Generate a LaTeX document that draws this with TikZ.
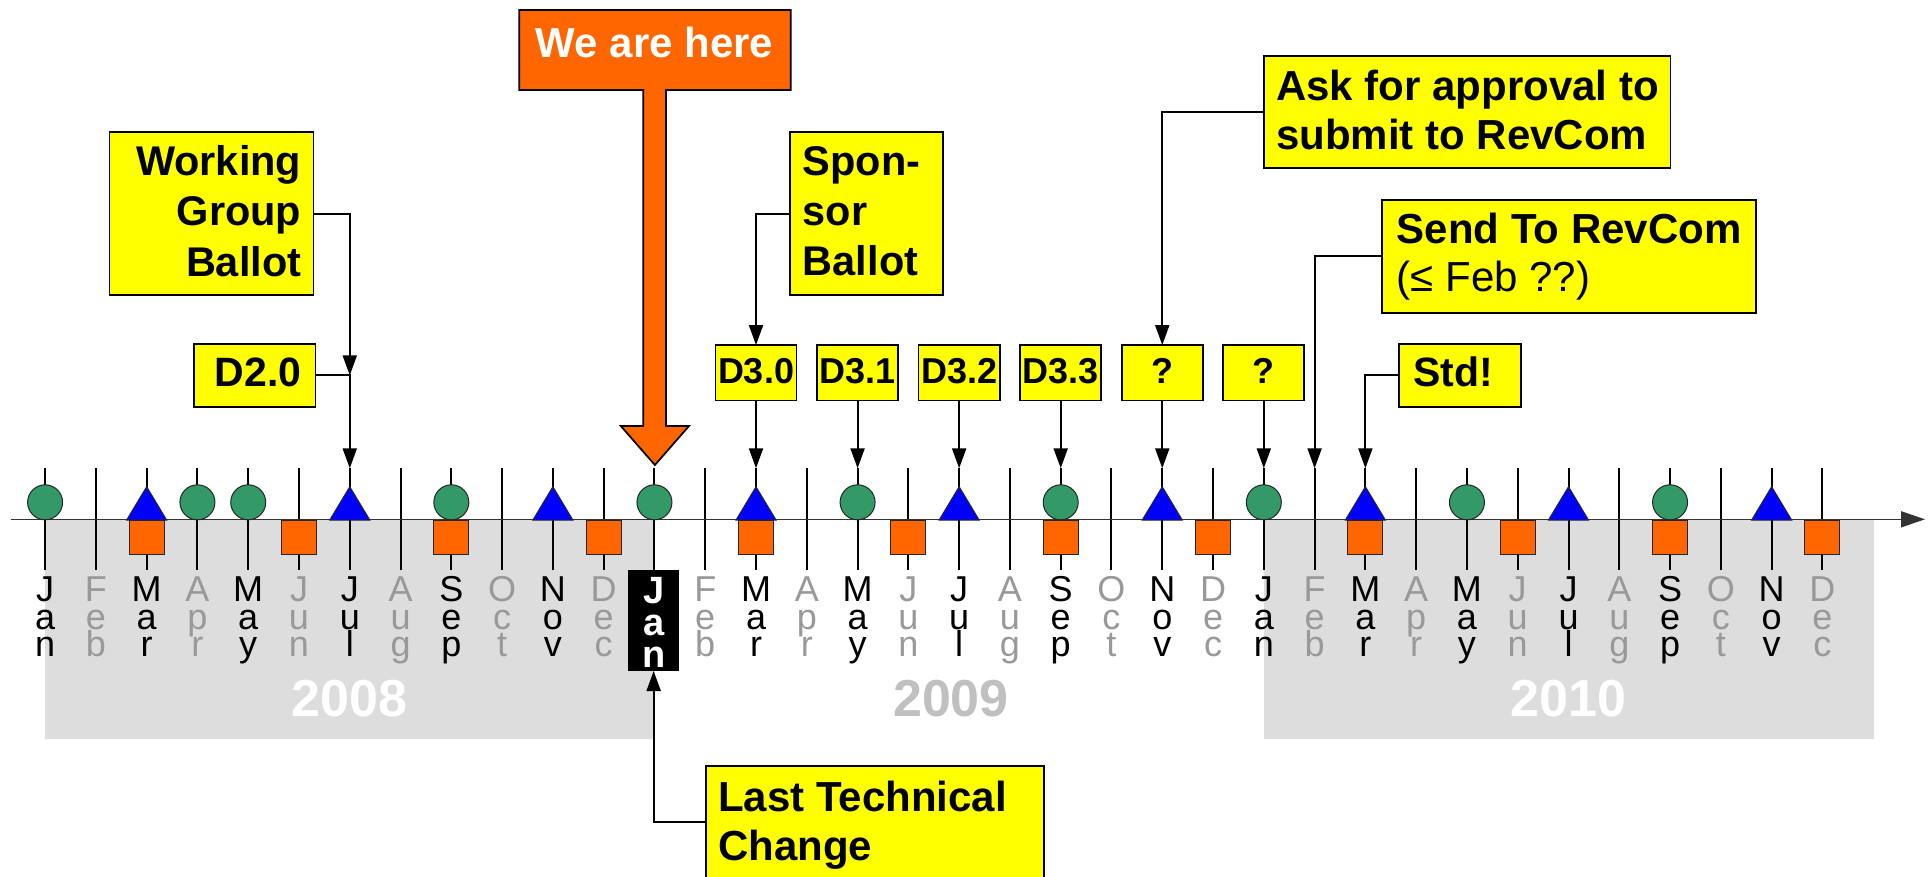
\documentclass[tikz,border=0pt]{standalone}
\usepackage{fontspec}
\setmainfont{Liberation Sans}
\usetikzlibrary{arrows.meta}

\definecolor{notefill}{HTML}{FFFF00}
\definecolor{herefill}{HTML}{FF6600}
\definecolor{circfill}{HTML}{339966}
\definecolor{trifill}{HTML}{0000FF}
\definecolor{sqfill}{HTML}{FF6600}
\definecolor{yearband}{HTML}{DDDDDD}
\definecolor{monthgray}{HTML}{999999}
\definecolor{yeargray}{HTML}{C0C0C0}

\newcommand\monthfont{\fontsize{36}{27.5}\selectfont\lineskiplimit=-100pt\relax}
\newcommand\curmonthfont{\fontsize{38}{32}\selectfont\bfseries\lineskiplimit=-100pt\relax}
\newcommand\notefont{\fontsize{41}{49.5}\selectfont\bfseries}

\begin{document}
\begin{tikzpicture}[x=1pt,y=-1pt,
  notebox/.style={draw=black,line width=1.7pt,fill=notefill,inner sep=0pt,outer sep=0pt,anchor=north west},
  dbox/.style={draw=black,line width=1.7pt,fill=notefill,inner sep=0pt,outer sep=0pt,minimum width=81pt,minimum height=55.5pt},
  notetext/.style={inner sep=0pt,font=\notefont},
  dtext/.style={inner sep=0pt,anchor=base,font=\fontsize{36}{40}\selectfont\bfseries},
  conn/.style={draw=black,line width=2pt,-{Triangle[width=14pt,length=20pt]}},
  tickline/.style={line width=2pt},
  monthlab/.style={inner sep=0pt,anchor=base,align=center,font=\monthfont},
  yearlab/.style={inner sep=0pt,anchor=base,font=\fontsize{52}{60}\selectfont\bfseries},
  shapeedge/.style={draw=black!85,line width=1pt}
]
\useasboundingbox (0,0) rectangle (1931,876);
\clip (0,0) rectangle (1931,876);

% year bands
\fill[yearband] (45.1,519.3) rectangle (655,738.5);
\fill[yearband] (1264.2,519.3) rectangle (1874,738.5);

% month ticks
\foreach \n in {0,...,35} {
  \coordinate (t\n) at ({45.1+50.78*\n},468.3);
  \coordinate (b\n) at ({45.1+50.78*\n},570);
}
\foreach \n in {0,...,35} \draw[tickline] (t\n) -- (b\n);

% time axis
\coordinate (axs) at (11,519.3);
\coordinate (axe) at (1925,519.3);
\draw[line width=1.5pt,draw=black!80,-{Triangle[width=16pt,length=24pt]}] (axs) -- (axe);

% markers
\foreach \n in {2,5,8,11,14,17,20,23,26,29,32,35}
  \draw[shapeedge,fill=sqfill] ({45.1+50.78*\n-17.5},520) rectangle ({45.1+50.78*\n+17.5},554.3);
\foreach \n in {0,3,4,8,12,16,20,24,28,32}
  \draw[shapeedge,fill=circfill] ({45.1+50.78*\n},502.3) circle[radius=17.5];
\foreach \n in {2,6,10,14,18,22,26,30,34}
  \draw[shapeedge,fill=trifill] ({45.1+50.78*\n-20},520) -- ({45.1+50.78*\n},486.7) -- ({45.1+50.78*\n+20},520) -- cycle;

% month names (anchor at the baseline of the last letter)
\foreach \yr in {0,1,2} {
  \foreach \lab/\col [count=\k from 0] in {{J\\a\\n}/black,{F\\e\\b}/monthgray,{M\\a\\r}/black,{A\\p\\r}/monthgray,{M\\a\\y}/black,{J\\u\\n}/monthgray,{J\\u\\l}/black,{A\\u\\g}/monthgray,{S\\e\\p}/black,{O\\c\\t}/monthgray,{N\\o\\v}/black,{D\\e\\c}/monthgray} {
    \pgfmathtruncatemacro\n{12*\yr+\k}
    \ifnum\n=12\relax\else
      \node[monthlab,text=\col] (m\n) at ({45.1+50.78*\n},656.7) {\lab};
    \fi
  }
}

% current month
\node[fill=black,inner sep=0pt,outer sep=0pt,minimum width=50.7pt,minimum height=101pt,anchor=north west] (jan09) at (628.3,570) {};
\node[inner sep=0pt,anchor=base,align=center,text=white,font=\curmonthfont] (jan09lab) at (653.7,667) {J\\a\\n};

% years
\node[yearlab,text=white] (y2008) at (349.8,716.7) {2008};
\node[yearlab,text=yeargray] (y2009) at (951,716.7) {2009};
\node[yearlab,text=white] (y2010) at (1568.5,716.7) {2010};

% "we are here" pointer
\draw[draw=black,line width=1.7pt,fill=herefill,line join=miter]
  (519.3,10) -- (790.7,10) -- (790.7,90) -- (666,90) -- (666,426) -- (689,426)
  -- (654.9,465) -- (620.8,426) -- (643.3,426) -- (643.3,90) -- (519.3,90) -- cycle;
\node[inner sep=0pt,anchor=base,text=white,font=\fontsize{42}{50}\selectfont\bfseries] (here) at (654.5,57) {We are here};

% working group ballot
\node[notebox,minimum width=204pt,minimum height=162.7pt] (wgb) at (109.6,132.3) {};
\node[notetext,anchor=base east,align=right,font=\fontsize{41.5}{50.5}\selectfont\bfseries] (wgbtext) at (301.5,276) {Working\\Group\\Ballot};
\node[notebox,minimum width=121.5pt,minimum height=62.7pt] (d20) at (194,344) {};
\node[notetext,anchor=base east] (d20text) at (301.7,386.7) {D2.0};
\draw[conn] (wgb.east) -| (d20.east -| t6);
\draw[conn] (d20.east) -| (t6);

% sponsor ballot
\node[notebox,minimum width=152.7pt,minimum height=162.7pt] (spon) at (790,132.3) {};
\node[notetext,anchor=base west,align=left,font=\fontsize{41.5}{50}\selectfont\bfseries] (spontext) at (802.7,275) {Spon-\\sor\\Ballot};

% draft boxes
\foreach \nm/\idx/\txt in {d30/14/D3.0,d31/16/D3.1,d32/18/D3.2,d33/20/D3.3,q1/22/?,q2/24/?} {
  \node[dbox] (\nm) at ({45.1+50.78*\idx},372.8) {};
  \node[dtext] (\nm text) at ({45.1+50.78*\idx},383) {\txt};
  \draw[conn] (\nm.south) -- (t\idx);
}
\draw[conn] (spon.west) -| (d30.north);

% revcom approval
\node[notebox,minimum width=406.7pt,minimum height=112.6pt] (ask) at (1263.8,55.7) {};
\node[notetext,anchor=base west,align=left,font=\fontsize{42}{49}\selectfont\bfseries] (asktext) at (1276,149) {Ask for approval to\\submit to RevCom};
\draw[conn] (ask.west) -| (q1.north);

% send to revcom
\node[notebox,minimum width=373.4pt,minimum height=112.7pt] (send) at (1382.3,200) {};
\node[notetext,anchor=base west,align=left,font=\fontsize{42}{48.7}\selectfont\bfseries] (sendtext) at (1396.7,291.7) {Send To RevCom\\\mdseries(≤ Feb ??)};
\draw[conn] (send.west) -| (t25);

% standard
\node[notebox,minimum width=121.7pt,minimum height=62.7pt] (std) at (1399.3,344) {};
\node[notetext,anchor=base west] (stdtext) at (1413,386.7) {Std!};
\draw[conn] (std.west) -| (t26);

% last technical change
\node[notebox,minimum width=338.6pt,minimum height=111.5pt] (last) at (705.7,766) {};
\node[notetext,anchor=base west,align=left,font=\fontsize{42}{48.3}\selectfont\bfseries] (lasttext) at (718,860) {Last Technical\\Change};
\draw[conn] (last.west) -| (jan09.south);
\end{tikzpicture}
\end{document}
